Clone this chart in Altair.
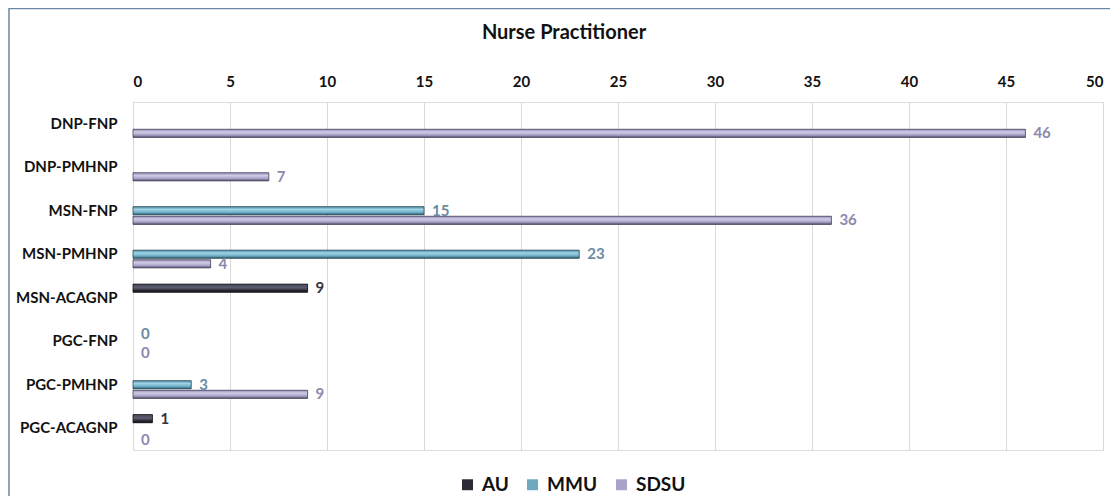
import altair as alt
import pandas as pd

categories = ["DNP-FNP", "DNP-PMHNP", "MSN-FNP", "MSN-PMHNP",
              "MSN-ACAGNP", "PGC-FNP", "PGC-PMHNP", "PGC-ACAGNP"]
series_names = ["AU", "MMU", "SDSU"]
au = [None, None, None, None, 9, None, None, 1]
mmu = [None, None, 15, 23, None, 0, 3, None]
sdsu = [46, 7, 36, 4, None, 0, 9, 0]
x_ticks = [0, 5, 10, 15, 20, 25, 30, 35, 40, 45, 50]
chart_title = "Nurse Practitioner"

rows = []
for s, vals in zip(series_names, [au, mmu, sdsu]):
    for c, v in zip(categories, vals):
        if v is not None:
            rows.append({"Program": c, "School": s, "Count": v})
df = pd.DataFrame(rows)

FONT = "Lato"
solid = ["#2b2b38", "#6fa9be", "#a8a3c8"]
label_colors = {"AU": "#333340", "MMU": "#6a8aa5", "SDSU": "#8d88ae"}
df["LabelColor"] = df["School"].map(label_colors)

def grad(stops):
    return alt.LinearGradient(
        gradient="linear", x1=0, x2=0, y1=0, y2=1,
        stops=[alt.GradientStop(offset=o, color=c) for o, c in stops])

grads = {
    "AU": (grad([(0, "#4a4a5a"), (0.45, "#5c5c70"), (0.75, "#2a2a36"), (1, "#121218")]), "#141418"),
    "MMU": (grad([(0, "#5592aa"), (0.35, "#9fd3e6"), (0.7, "#6eb0c8"), (1, "#2c5566")]), "#2d4a58"),
    "SDSU": (grad([(0, "#9590b5"), (0.35, "#d0cce6"), (0.7, "#a9a4c9"), (1, "#56526e")]), "#4a4660"),
}

y_enc = alt.Y("Program:N", sort=categories, title=None,
              scale=alt.Scale(paddingInner=0.34, paddingOuter=0.17),
              axis=alt.Axis(domain=False, ticks=False, labelFont=FONT, labelFontSize=15,
                            labelFontWeight="bold", labelColor="#111111", labelPadding=16))
x_enc = alt.X("Count:Q", title=None,
              scale=alt.Scale(domain=[0, 50], nice=False),
              axis=alt.Axis(orient="top", values=x_ticks, domain=False, ticks=False,
                            labelFont=FONT, labelFontSize=15, labelFontWeight="bold",
                            labelColor="#111111", labelPadding=13,
                            gridColor="#d9d9d9", gridWidth=1))
yoff_enc = alt.YOffset("School:N", sort=series_names,
                       scale=alt.Scale(paddingInner=0.15, paddingOuter=0.075))

base = alt.Chart(df)
nonzero = base.transform_filter(alt.datum.Count > 0)

legend_bars = nonzero.mark_bar().encode(
    x=x_enc, y=y_enc, yOffset=yoff_enc,
    color=alt.Color("School:N", sort=series_names,
                    scale=alt.Scale(domain=series_names, range=solid),
                    legend=alt.Legend(title=None, orient="none", direction="horizontal",
                                      legendX=325, legendY=373, symbolType="square",
                                      symbolSize=120, symbolStrokeWidth=0,
                                      labelFont=FONT, labelFontSize=19,
                                      labelFontWeight="bold", labelColor="#111111",
                                      labelOffset=5, columnPadding=14)))

layers = [legend_bars]
for s in series_names:
    g, edge = grads[s]
    layers.append(
        nonzero.transform_filter(alt.datum.School == s)
        .mark_bar(fill=g, stroke=edge, strokeWidth=0.8)
        .encode(x="Count:Q", y=alt.Y("Program:N", sort=categories), yOffset=yoff_enc))

text_common = dict(align="left", baseline="middle", dx=8, font=FONT,
                   fontSize=15, fontWeight="bold")
text_enc = dict(x="Count:Q", y=alt.Y("Program:N", sort=categories), yOffset=yoff_enc,
                text="Count:Q", color=alt.Color("LabelColor:N", scale=None))

layers.append(nonzero.mark_text(**text_common).encode(**text_enc))
layers.append(base.transform_filter((alt.datum.Count == 0) & (alt.datum.School == "MMU"))
              .mark_text(dy=-7, **text_common).encode(**text_enc))
layers.append(base.transform_filter((alt.datum.Count == 0) & (alt.datum.School == "SDSU"))
              .mark_text(dy=2.5, **text_common).encode(**text_enc))

one = pd.DataFrame({"t": [chart_title]})
title_mark = alt.Chart(one).mark_text(font=FONT, fontSize=20, fontWeight="bold",
                                      color="#111111", align="center",
                                      baseline="middle").encode(
    text="t:N", x=alt.value(431), y=alt.value(-69))
layers.append(title_mark)

frame_left = alt.Chart(one).mark_rule(color="#6b87a3", strokeWidth=1.5).encode(
    x=alt.value(-124), y=alt.value(-94), y2=alt.value(400))
frame_top = alt.Chart(one).mark_rule(color="#6b87a3", strokeWidth=1.5).encode(
    x=alt.value(-124), x2=alt.value(980), y=alt.value(-93.5))
layers += [frame_left, frame_top]

chart = alt.layer(*layers).properties(
    width=970, height=348,
    padding={"left": 125, "top": 94, "right": 7, "bottom": 46},
    autosize=alt.AutoSizeParams(type="none"),
).configure_view(stroke=None).configure(background="white")

chart.save("out.html", embed_options={"renderer": "svg", "actions": False})
